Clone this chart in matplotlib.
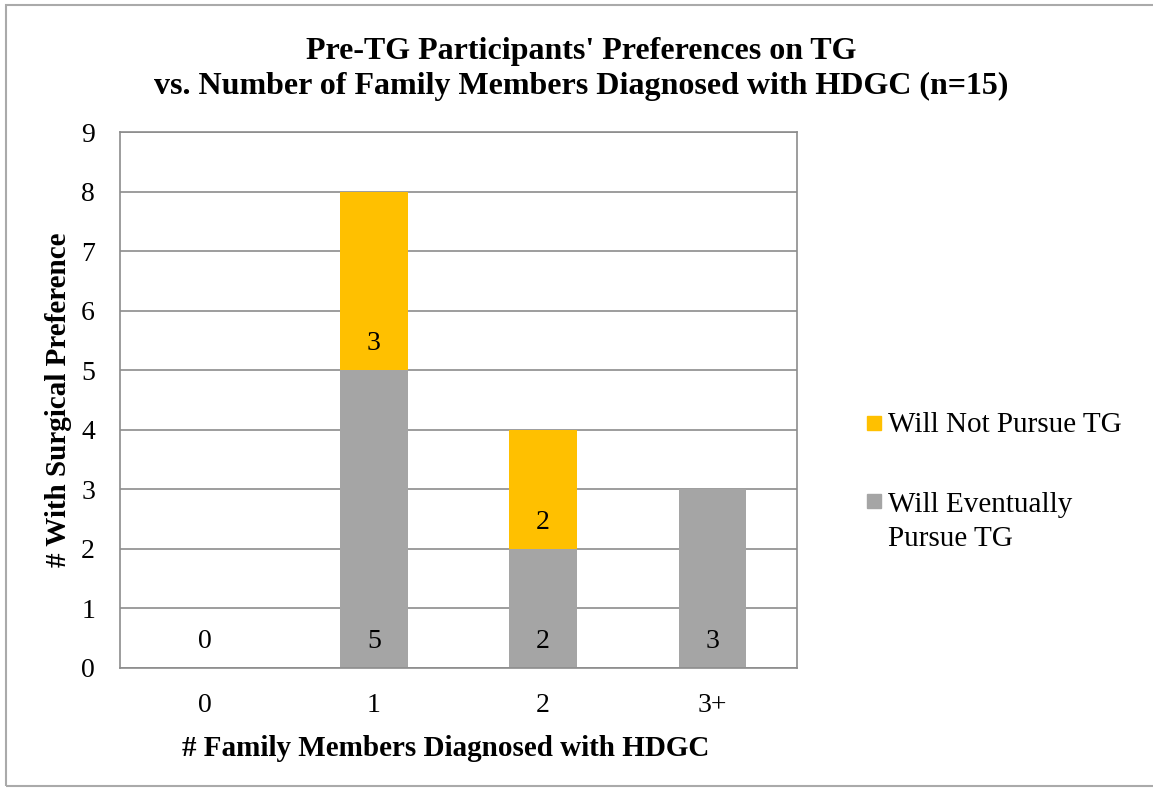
import matplotlib.pyplot as plt
from matplotlib.patches import Rectangle
import numpy as np

categories = ["0", "1", "2", "3+"]
eventually = [0, 5, 2, 3]
not_pursue = [0, 3, 2, 0]
series_names = ["Will Not Pursue TG", "Will Eventually\nPursue TG"]

plt.rcParams["font.family"] = ["Liberation Serif", "DejaVu Serif"]

W, H = 1153, 791
fig = plt.figure(figsize=(W / 100, H / 100), dpi=100)
ax = fig.add_axes([0.1041, 0.1555, 0.5872, 0.6776])

x = np.arange(len(categories))
grey = "#A5A5A5"
yellow = "#FFC000"
b1 = ax.bar(x, eventually, width=0.4, color=grey, zorder=2)
b2 = ax.bar(x, not_pursue, width=0.4, bottom=eventually, color=yellow, zorder=2)

# labels at the inside base of each segment
for i, v in enumerate(eventually):
    ax.annotate(str(v), (x[i], 0), xytext=(0, 19), textcoords="offset points",
                ha="center", va="center", fontsize=20)
for i, v in enumerate(not_pursue):
    if v > 0:
        ax.annotate(str(v), (x[i], eventually[i]), xytext=(0, 19),
                    textcoords="offset points", ha="center", va="center", fontsize=20)

ax.set_xlim(-0.5, 3.5)
ax.set_ylim(0, 9)
ax.set_yticks(range(10))
ax.set_xticks(x)
ax.set_xticklabels(categories)
ax.tick_params(length=0, labelsize=20)
ax.tick_params(axis="y", pad=18)
ax.tick_params(axis="x", pad=18)
ax.grid(axis="y", color="#8c8c8c", linewidth=1.2, zorder=0)
for s in ax.spines.values():
    s.set_color("#8c8c8c")
    s.set_linewidth(1.2)

ax.set_xlabel("# Family Members Diagnosed with HDGC", fontsize=21, fontweight="bold")
ax.xaxis.set_label_coords(0.4815, -0.1255)
ax.set_ylabel("# With Surgical Preference", fontsize=21, fontweight="bold")
ax.yaxis.set_label_coords(-0.071, 0.5)

fig.text(0.504, 0.935, "Pre-TG Participants' Preferences on TG",
         ha="center", va="center", fontsize=23, fontweight="bold")
fig.text(0.504, 0.891, "vs. Number of Family Members Diagnosed with HDGC (n=15)",
         ha="center", va="center", fontsize=23, fontweight="bold")

# legend drawn by hand so the swatch sits on the first line
legend_items = [(series_names[0], yellow, 423), (series_names[1], grey, 501)]
for label, color, yc in legend_items:
    fig.patches.append(Rectangle((867 / W, 1 - (yc + 7) / H), 14 / W, 14 / H,
                                 transform=fig.transFigure, color=color))
    # baseline anchors the last line, so push down by the extra lines
    extra = 35 * label.count("\n")
    fig.text(888 / W, 1 - (yc + 9.5 + extra) / H, label, ha="left", va="baseline",
             fontsize=21, linespacing=1.38)

# outer chart border
fig.patches.append(Rectangle((0.005, 0.006), 1.2, 0.988, transform=fig.transFigure,
                             fill=False, edgecolor="#aaaaaa", linewidth=1.5))

fig.savefig("out.png", dpi=100)
